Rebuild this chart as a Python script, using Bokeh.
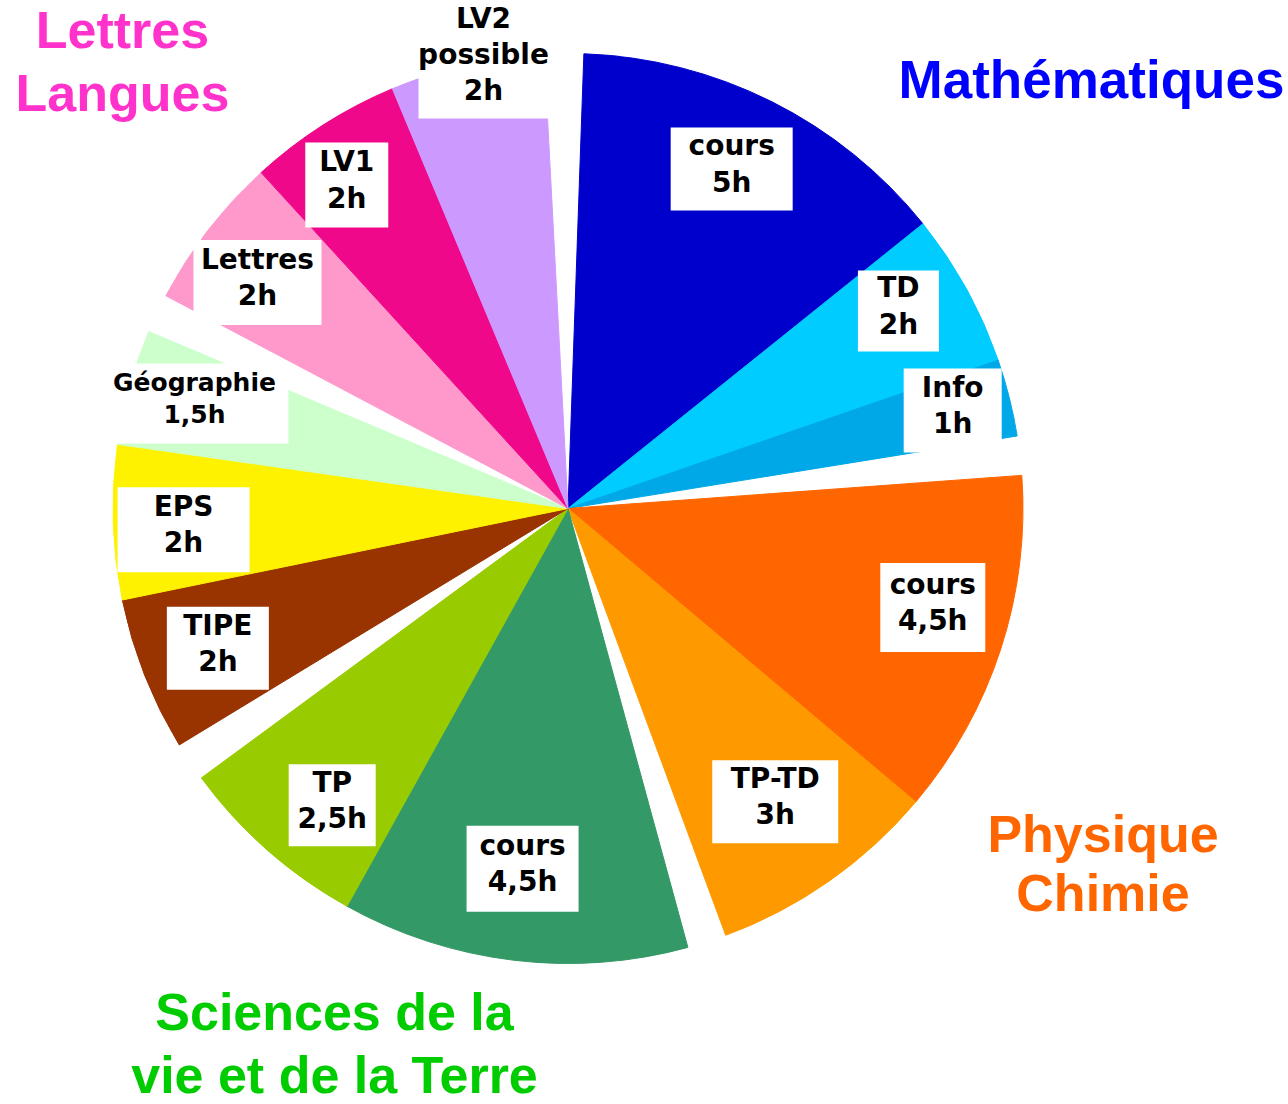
import math
from bokeh.plotting import figure
from bokeh.models import Range1d, ColumnDataSource
from bokeh.core.properties import value
from bokeh.embed import file_html
from bokeh.resources import INLINE

# ---------------- data ----------------
subjects = ["cours", "TD", "Info", "cours", "TP-TD", "cours", "TP",
            "TIPE", "EPS", "Géographie", "Lettres", "LV1", "LV2\npossible"]
hours = [5, 2, 1, 4.5, 3, 4.5, 2.5, 2, 2, 1.5, 2, 2, 2]
groups = ["Mathématiques", "Mathématiques", "Mathématiques",
          "Physique Chimie", "Physique Chimie",
          "SVT", "SVT",
          "Autres", "Autres", "Autres",
          "Lettres Langues", "Lettres Langues", "Lettres Langues"]
slice_colors = ["#0000CC", "#00CCFF", "#00A8E8", "#FF6600", "#FF9900",
                "#339966", "#99CC00", "#993300", "#FFF200", "#CCFFCC",
                "#FF99CC", "#F0088A", "#CC99FF"]

group_titles = ["Mathématiques", "Physique\nChimie",
                "Sciences de la\nvie et de la Terre", "Lettres\nLangues"]
title_colors = ["#0000FF", "#FF6600", "#00CC00", "#FF33CC"]

# ---------------- layout / style ----------------
START = 88.0      # degrees, first slice edge
GAP = 5.0         # angular gap between groups
RADIUS = 455
label_r = [377, 385, 397, 378, 359, 363, 379, 377, 385, 388, 384, 392, 457]
label_nudge = [0.9, 2.0, 0.2, 2.8, 0.2, -0.3, 2.9, 0.3, 1.4, -0.2, 1.7, 1.8, -2.2]
box_w = [122, 81, 98, 105, 126, 112, 87, 102, 132, 188, 128, 83, 130]
box_h = [83, 81, 84, 89, 83, 86, 82, 83, 85, 80, 85, 85, 118]
label_fs = ["28px"] * 9 + ["25px"] + ["28px"] * 3
title_pos = [(523.5, 429), (535.0, -325), (-233.5, -503), (-445.5, 479)]
title_line = [64, 59, 63, 63]
title_fs = ["53px", "52px", "52px", "52px"]

# ---------------- angles ----------------
n_groups = 0
for i in range(len(groups)):
    if groups[i] != groups[(i + 1) % len(groups)]:
        n_groups += 1
dph = (360.0 - GAP * n_groups) / sum(hours)

starts, ends, mids = [], [], []
a = START
for i, h in enumerate(hours):
    e = a
    s = a - h * dph
    starts.append(math.radians(s))
    ends.append(math.radians(e))
    mids.append((s + e) / 2)
    a = s
    if groups[i] != groups[(i + 1) % len(groups)]:
        a -= GAP

lx = [r * math.cos(math.radians(m + d)) for r, m, d in zip(label_r, mids, label_nudge)]
ly = [r * math.sin(math.radians(m + d)) for r, m, d in zip(label_r, mids, label_nudge)]


def fmt_h(h):
    return ("%g" % h).replace(".", ",") + "h"


label_text = [f"{s}\n{fmt_h(h)}" for s, h in zip(subjects, hours)]

# ---------------- figure ----------------
p = figure(width=1288, height=1104,
           x_range=Range1d(-567.5, 720.5), y_range=Range1d(-596, 508),
           output_backend="svg", toolbar_location=None, min_border=0,
           x_axis_location=None, y_axis_location=None)
p.grid.visible = False
p.outline_line_color = None
p.background_fill_color = "white"
p.border_fill_color = "white"

src = ColumnDataSource(dict(start=starts, end=ends, color=slice_colors))
p.wedge(x=0, y=0, radius=RADIUS, start_angle="start", end_angle="end",
        direction="anticlock",
        fill_color="color", line_color="color", line_width=1, source=src)

lsrc = ColumnDataSource(dict(x=lx, y=ly, ty=[v + 5 for v in ly], w=box_w, h=box_h,
                             text=label_text, fs=label_fs))
p.rect(x="x", y="y", width="w", height="h", fill_color="white",
       line_color=None, source=lsrc)
p.text(x="x", y="ty", text="text", source=lsrc,
       text_align="center", text_baseline="middle",
       text_font=value("DejaVu Sans"), text_font_style="bold",
       text_font_size="fs", text_line_height=1.10, text_color="black")

tx, ty, tt, tc, tf = [], [], [], [], []
for (x0, y0), t, c, sp, fs in zip(title_pos, group_titles, title_colors, title_line, title_fs):
    for k, line in enumerate(t.split("\n")):
        tx.append(x0)
        ty.append(y0 - k * sp)
        tt.append(line)
        tc.append(c)
        tf.append(fs)
tsrc = ColumnDataSource(dict(x=tx, y=ty, text=tt, color=tc, fs=tf))
p.text(x="x", y="y", text="text", text_color="color", source=tsrc,
       text_align="center", text_baseline="alphabetic",
       text_font=value("Liberation Sans"), text_font_style="bold",
       text_font_size="fs")

open("out.html", "w").write(file_html(p, INLINE))
